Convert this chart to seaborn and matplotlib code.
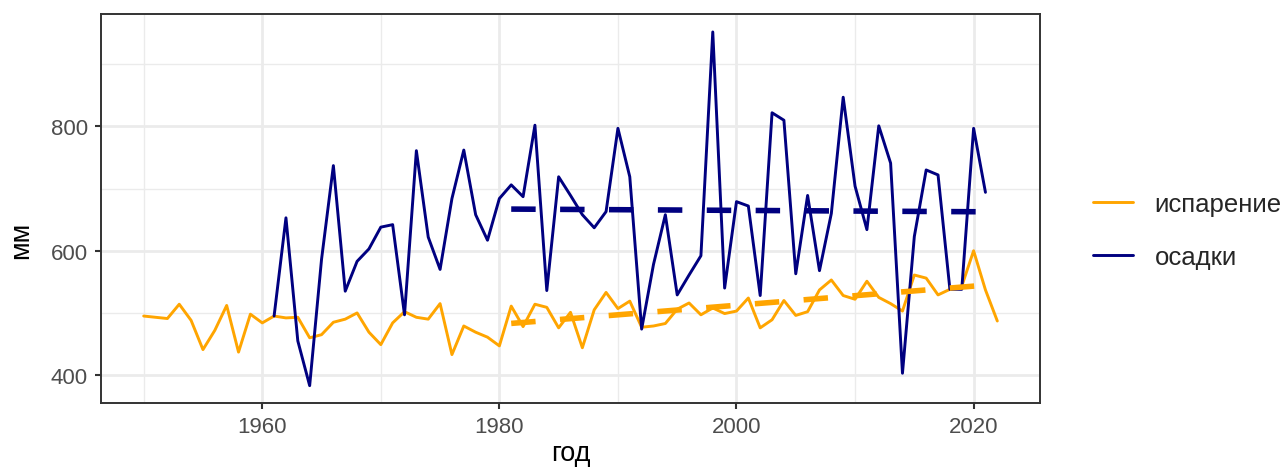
import numpy as np
import pandas as pd
import matplotlib
matplotlib.use("Agg")
import matplotlib.pyplot as plt
from matplotlib.ticker import MultipleLocator
import seaborn as sns

# Annual evaporation, 1950-2022 (mm)
evap_years = list(range(1950, 2023))
evap_values = [
    495, 493, 491, 514, 488, 441, 472, 512, 437, 498,
    484, 495, 492, 493, 460, 465, 485, 490, 500, 469,
    449, 484, 502, 493, 490, 515, 433, 479, 469, 461,
    447, 511, 478, 514, 509, 476, 501, 444, 505, 533,
    507, 519, 477, 479, 483, 506, 516, 497, 508, 499,
    503, 524, 476, 489, 520, 496, 502, 537, 553, 528,
    522, 551, 525, 515, 503, 561, 556, 529, 538, 543,
    600, 537, 487,
]

# Annual precipitation, 1961-2021 (mm)
prec_years = list(range(1961, 2022))
prec_values = [
    495, 653, 455, 383, 586, 737, 535, 583, 603, 638,
    642, 497, 761, 622, 570, 684, 762, 658, 617, 684,
    706, 687, 802, 536, 719, 689, 658, 637, 663, 797,
    719, 474, 578, 658, 529, 561, 592, 952, 540, 679,
    672, 528, 822, 810, 563, 689, 568, 660, 847, 704,
    634, 801, 741, 403, 623, 730, 722, 538, 538, 797,
    694,
]

series_names = ["испарение", "осадки"]
series_colors = {"испарение": "orange", "осадки": "navy"}
trend_start, trend_end = 1981, 2021

df = pd.concat([
    pd.DataFrame({"год": evap_years, "мм": evap_values, "var": series_names[0]}),
    pd.DataFrame({"год": prec_years, "мм": prec_values, "var": series_names[1]}),
], ignore_index=True)

sns.set_theme(style="white")
plt.rcParams["font.family"] = ["Liberation Sans", "DejaVu Sans"]

W, H = 1284, 477
fig = plt.figure(figsize=(W / 100, H / 100), dpi=100)
ax = fig.add_axes([101 / W, 1 - 403.7 / H, (1040 - 101) / W, (403.7 - 15.3) / H])

line_w = 2.1
grid_c = "#EBEBEB"

sns.lineplot(data=df, x="год", y="мм", hue="var", hue_order=series_names,
             palette=series_colors, linewidth=line_w, ax=ax, zorder=3)
handles, labels = ax.get_legend_handles_labels()
ax.get_legend().remove()

# Linear trends over the common period
for name in series_names:
    sub = df[(df["var"] == name) & (df["год"] >= trend_start) & (df["год"] <= trend_end)]
    sns.regplot(data=sub, x="год", y="мм", scatter=False, ci=None, truncate=True,
                color=series_colors[name], ax=ax,
                line_kws=dict(linewidth=4.0, dashes=(4.4, 4.4), zorder=4,
                              solid_capstyle="butt", dash_capstyle="butt"))

ax.set_xlim(1946.4, 2025.6)
ax.set_ylim(355.6, 980.4)
ax.xaxis.set_major_locator(MultipleLocator(20))
ax.xaxis.set_minor_locator(MultipleLocator(10))
ax.yaxis.set_major_locator(MultipleLocator(200))
ax.yaxis.set_minor_locator(MultipleLocator(100))

ax.grid(which="major", color=grid_c, linewidth=1.95, zorder=0)
ax.grid(which="minor", color=grid_c, linewidth=1.0, zorder=0)
ax.set_axisbelow(True)

for sp in ax.spines.values():
    sp.set_visible(True)
    sp.set_color("#333333")
    sp.set_linewidth(1.4)

ax.tick_params(which="major", length=4.5, width=1.5, color="#333333",
               labelsize=16, labelcolor="#4D4D4D", pad=5,
               bottom=True, left=True)
ax.tick_params(which="minor", length=0)

ax.set_xlabel("год", fontsize=19.5, color="black")
ax.set_ylabel("мм", fontsize=19.5, color="black")
ax.xaxis.set_label_coords(0.5, (403.7 - 454) / (403.7 - 15.3))
ax.yaxis.set_label_coords((21 - 101) / (1040 - 101), (403.7 - 240) / (403.7 - 15.3))
ax.xaxis.label.set_va("center")
ax.yaxis.label.set_va("center")

leg = fig.legend(handles[:2], labels[:2], loc="center left",
                 bbox_to_anchor=(1093 / W, 1 - 231.5 / H), frameon=False,
                 fontsize=18.5, handlelength=1.55, handletextpad=0.85,
                 labelspacing=1.1, borderpad=0, borderaxespad=0)

fig.savefig("out.png", dpi=100)
